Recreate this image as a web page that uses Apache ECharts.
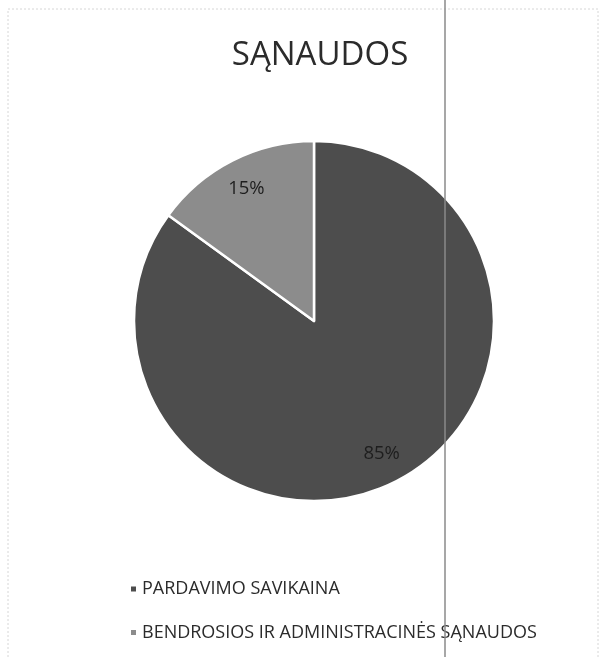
<!DOCTYPE html>
<html>
<head>
<meta charset="utf-8">
<script src="https://cdn.jsdelivr.net/npm/echarts@6/dist/echarts.min.js"></script>
<style>
  html, body { margin: 0; padding: 0; background: #fff; }
  #main { width: 605px; height: 657px; }
</style>
</head>
<body>
<div id="main"></div>
<script>
// duomenys
const categories = ['PARDAVIMO SAVIKAINA', 'BENDROSIOS IR ADMINISTRACINĖS SĄNAUDOS'];
const shares = [85, 15];
const colors = ['#4d4d4d', '#8c8c8c'];

const pieData = categories.map((name, i) => ({ value: shares[i], name: name }));

const chart = echarts.init(document.getElementById('main'));

const option = {
  backgroundColor: '#fff',
  color: colors,
  title: {
    text: 'SĄNAUDOS',
    left: 315,
    top: 34,
    textAlign: 'center',
    textStyle: { fontFamily: 'Open Sans', fontWeight: 'normal', fontSize: 33, color: '#2b2b2b' }
  },
  legend: {
    orient: 'vertical',
    left: 124,
    top: 575,
    itemGap: 25.5,
    icon: 'rect',
    itemWidth: 7,
    itemHeight: 7,
    textStyle: { fontFamily: 'Open Sans', fontSize: 18, color: '#2b2b2b' },
    data: categories
  },
  // vertikali linija ir rėmelis (skenuoto lapo kraštai)
  graphic: [
    { type: 'rect', shape: { x: 8, y: 9, width: 590, height: 660 }, style: { fill: 'none', stroke: '#d6d6d6', lineWidth: 1, lineDash: [2, 2] }, silent: true },
    { type: 'line', shape: { x1: 445, y1: 0, x2: 445, y2: 657 }, style: { stroke: '#8a8a8a', lineWidth: 1.5 }, z: 100, silent: true }
  ],
  series: [
    {
      type: 'pie',
      center: [314, 321],
      radius: [0, 180],
      startAngle: 90,
      clockwise: true,
      label: { show: false },
      labelLine: { show: false },
      itemStyle: { borderColor: '#fff', borderWidth: 2.5 },
      emphasis: { disabled: true },
      data: pieData
    },
    {
      // tik etiketėms: žiedas, kad tekstas būtų arčiau krašto
      type: 'pie',
      center: [314, 321],
      radius: [112, 180],
      startAngle: 90,
      clockwise: true,
      silent: true,
      itemStyle: { color: 'rgba(0,0,0,0)', borderWidth: 0 },
      label: {
        show: true,
        position: 'inside',
        formatter: '{d}%',
        fontFamily: 'Open Sans',
        fontSize: 18.5,
        color: '#1e1e1e'
      },
      labelLine: { show: false },
      emphasis: { disabled: true },
      data: pieData
    }
  ]
};

chart.setOption(option);
</script>
</body>
</html>
